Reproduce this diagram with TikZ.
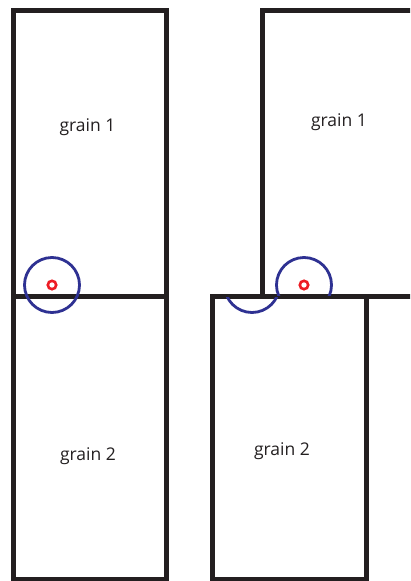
\documentclass[tikz,border=0pt]{standalone}
\usepackage{fontspec}
\setmainfont{Open Sans}
\definecolor{gbblue}{HTML}{2E3192}
\definecolor{gbred}{HTML}{ED1C24}
\definecolor{gbblack}{HTML}{231F20}
\begin{document}
\begin{tikzpicture}[x=1pt,y=-1pt,
  grainline/.style={draw=gbblack,line width=5pt,line join=miter},
  zone/.style={draw=gbblue,line width=2.8pt},
  core/.style={draw=gbred,line width=2.6pt},
  lbl/.style={font=\fontsize{17.5}{20}\selectfont,text=gbblack,inner sep=0pt}]
\useasboundingbox (0,0) rectangle (410,581);
\clip (0,0) rectangle (410,581);
% left pair
\draw[grainline] (13,10.5) rectangle (166,296);
\draw[grainline] (13,296) rectangle (166,579);
\draw[zone] (52,285) circle[radius=27.5];
\draw[core] (52,285) circle[radius=4.2];
% right pair
\draw[grainline] (420,10.5) -- (262,10.5) -- (262,296);
\draw[grainline] (212,296) rectangle (366,579);
\draw[grainline] (210,296) -- (420,296);
\begin{scope}
  \clip (200,250) rectangle (360,295);
  \draw[zone] (304,285) circle[radius=27.5];
\end{scope}
\begin{scope}
  \clip (200,297) rectangle (300,330);
  \draw[zone] (252,285) circle[radius=27.5];
\end{scope}
\draw[core] (304,285) circle[radius=4.2];
% labels
\node[lbl] (g1l) at (87.5,127) {grain 1};
\node[lbl] (g2l) at (88,456) {grain 2};
\node[lbl] (g1r) at (339,122) {grain 1};
\node[lbl] (g2r) at (282,451) {grain 2};
\end{tikzpicture}
\end{document}
